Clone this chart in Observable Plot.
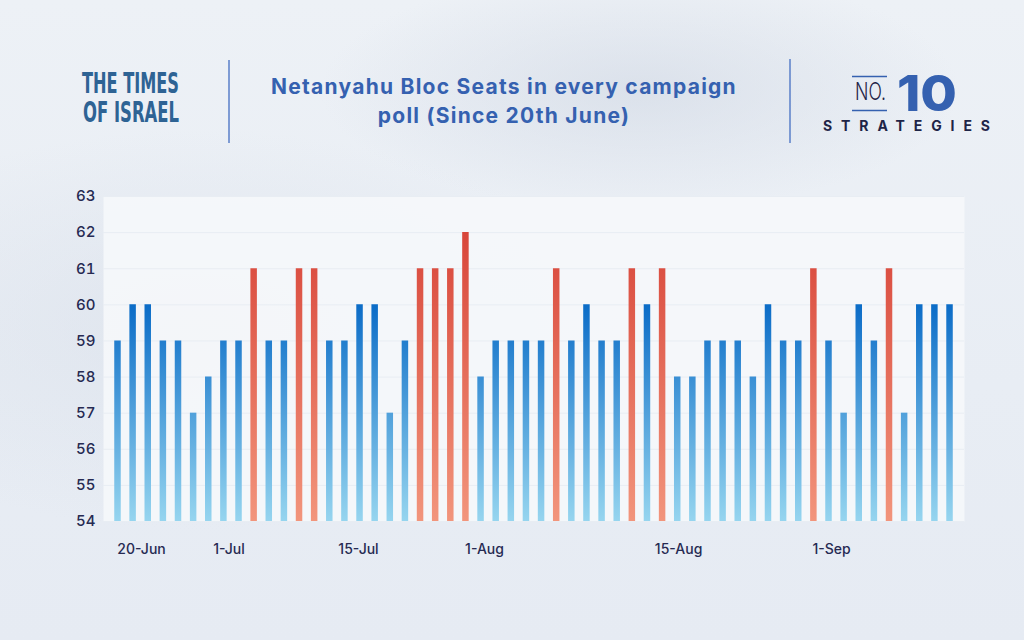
<!DOCTYPE html>
<html>
<head>
<meta charset="utf-8">
<script src="https://cdn.jsdelivr.net/npm/d3@7"></script>
<script src="https://cdn.jsdelivr.net/npm/@observablehq/plot@0.6"></script>
<style>
  html, body { margin: 0; padding: 0; }
  body {
    width: 1024px; height: 640px; overflow: hidden; position: relative;
    font-family: Inter, "Noto Sans", sans-serif;
    background:
      radial-gradient(ellipse 320px 120px at 640px 90px, rgba(205,213,226,0.55), rgba(205,213,226,0) 100%),
      radial-gradient(ellipse 420px 200px at 200px 330px, rgba(214,221,232,0.5), rgba(214,221,232,0) 100%),
      linear-gradient(180deg, #edf1f6 0%, #e8edf4 60%, #e6ebf3 100%);
  }
  #header { position: absolute; left: 0; top: 0; }
  #title {
    position: absolute; left: 204px; width: 600px; top: 72px;
    text-align: center; font-family: Inter, sans-serif; font-weight: 700;
    font-size: 21px; letter-spacing: 1.25px; line-height: 29px; color: #3561b0;
  }
  #chart { position: absolute; left: 0; top: 170px; }
</style>
</head>
<body>
<svg id="header" width="1024" height="170">
  <text x="82" y="93" font-family="'Liberation Sans Narrow', 'DejaVu Sans Condensed', sans-serif" font-weight="700" font-size="26" fill="#2e6394" textLength="97" lengthAdjust="spacingAndGlyphs" transform="translate(0,93) scale(1,1.08) translate(0,-93)">THE TIMES</text>
  <text x="83" y="122" font-family="'Liberation Sans Narrow', 'DejaVu Sans Condensed', sans-serif" font-weight="700" font-size="26" fill="#2e6394" textLength="96" lengthAdjust="spacingAndGlyphs" transform="translate(0,122) scale(1,1.08) translate(0,-122)">OF ISRAEL</text>
  <line x1="229" x2="229" y1="60" y2="143" stroke="#5a7fc9" stroke-width="1.5"/>
  <line x1="790" x2="790" y1="59" y2="143" stroke="#5a7fc9" stroke-width="1.5"/>
  <line x1="852" x2="887" y1="76.5" y2="76.5" stroke="#3561b0" stroke-width="1.5"/>
  <line x1="852" x2="887" y1="110.5" y2="110.5" stroke="#3561b0" stroke-width="1.5"/>
  <text x="855" y="100" font-family="Inter, sans-serif" font-weight="300" font-size="24" fill="#1e2447" textLength="31" lengthAdjust="spacingAndGlyphs">NO.</text>
  <text x="897" y="111" font-family="Inter, sans-serif" font-weight="800" font-size="50" fill="#3561b0" textLength="60" lengthAdjust="spacingAndGlyphs">10</text>
  <text x="823" y="130.5" font-family="Inter, sans-serif" font-weight="700" font-size="14" fill="#1e2447" textLength="167" lengthAdjust="spacing">STRATEGIES</text>
</svg>
<div id="title">Netanyahu Bloc Seats in every campaign<br>poll (Since 20th June)</div>
<div id="chart"></div>
<script>
// Seats won by the Netanyahu bloc in each campaign poll (in order)
const seats = [59,60,60,59,59,57,58,59,59,61, 59,59,61,61,59,59,60,60,57,59,
               61,61,61,62,58,59,59,59,59,61, 59,60,59,59,61,60,61,58,58,59,
               59,59,58,60,59,59,61,59,57,60, 59,61,57,60,60,60];
const majority = 61;
const yTicks = [54,55,56,57,58,59,60,61,62,63];
const tickLabels = ["20-Jun","1-Jul","15-Jul","1-Aug","15-Aug","1-Sep"];
// positions of the date labels, measured in poll order
const tickPositions = [1.59, 7.37, 15.93, 24.26, 37.09, 47.2];

const polls = seats.map((v, i) => ({i, v}));
const ticks = tickLabels.map((t, k) => ({t, p: tickPositions[k]}));

const chart = Plot.plot({
  width: 1024,
  height: 410,
  marginTop: 26,
  marginBottom: 59,
  marginLeft: 103,
  marginRight: 60,
  style: {background: "transparent", fontFamily: "Inter, sans-serif", fontSize: "15px", fontWeight: 500, color: "#262a52"},
  x: {type: "linear", domain: [-0.925, 55.99], axis: null},
  y: {domain: [54, 63], ticks: yTicks, tickSize: 0, tickPadding: 8, label: null, tickFormat: d => String(d)},
  marks: [
    Plot.frame({fill: "#f6f8fb", fillOpacity: 0.88, stroke: null}),
    Plot.gridY(yTicks, {stroke: "#e8edf3", strokeOpacity: 1, strokeWidth: 1}),
    Plot.ruleX(polls.filter(d => d.v < majority), {x: "i", y1: 54, y2: "v", stroke: "url(#gBlue)", strokeWidth: 6.5}),
    Plot.ruleX(polls.filter(d => d.v >= majority), {x: "i", y1: 54, y2: "v", stroke: "url(#gRed)", strokeWidth: 6.5}),
    Plot.text(ticks, {x: "p", text: "t", frameAnchor: "bottom", dy: 32, fontSize: 14, fill: "#262a52"})
  ]
});

const y = chart.scale("y");
const defs = d3.select(chart).insert("defs", ":first-child");
function grad(id, from, to, c1, c2) {
  const g = defs.append("linearGradient").attr("id", id)
    .attr("gradientUnits", "userSpaceOnUse")
    .attr("x1", 0).attr("x2", 0)
    .attr("y1", y.apply(from)).attr("y2", y.apply(to));
  g.append("stop").attr("offset", 0).attr("stop-color", c1);
  g.append("stop").attr("offset", 1).attr("stop-color", c2);
}
grad("gBlue", 60, 54, "#0b6cc7", "#96d5ef");
grad("gRed", 62, 54, "#d8463a", "#f2957c");

document.getElementById("chart").appendChild(chart);
</script>
</body>
</html>
